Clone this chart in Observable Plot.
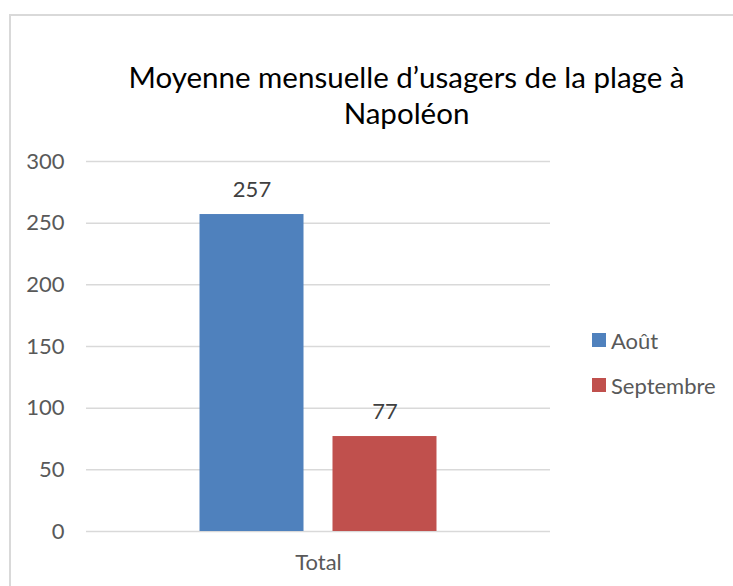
<!DOCTYPE html>
<html>
<head>
<meta charset="utf-8">
<script src="https://cdn.jsdelivr.net/npm/d3@7"></script>
<script src="https://cdn.jsdelivr.net/npm/@observablehq/plot@0.6"></script>
<style>
  html, body { margin: 0; padding: 0; background: #fff; }
  #wrap { position: relative; width: 733px; height: 586px; overflow: hidden; font-family: Lato, "Open Sans", sans-serif; }
  #frame { position: absolute; left: 9px; top: 14px; width: 800px; height: 700px; border-left: 2px solid #d9d9d9; border-top: 2px solid #d9d9d9; pointer-events: none; z-index: 2; }
  #title { height: 145px; box-sizing: border-box; padding-top: 59px; padding-left: 80px; text-align: center; font-size: 29.5px; line-height: 36px; color: #000; }
  #legend { position: absolute; left: 592px; top: 326px; z-index: 3; }
  .item { display: flex; align-items: center; height: 28px; margin-bottom: 17px; font-size: 22px; color: #595959; }
  .sw { width: 14px; height: 14px; margin-right: 5px; }
</style>
</head>
<body>
<div id="wrap">
  <div id="frame"></div>
  <div id="title">Moyenne mensuelle d’usagers de la plage à<br>Napoléon</div>
  <div id="chart"></div>
  <div id="legend"></div>
</div>
<script>
const categories = ["Total"];
const series = ["Août", "Septembre"];
const values = [257, 77];
const colors = ["#4F81BD", "#C0504D"];
const yTicks = [0, 50, 100, 150, 200, 250, 300];

const data = series.map((s, i) => ({cat: categories[0], series: s, value: values[i]}));

const chart = Plot.plot({
  width: 733,
  height: 441,
  marginTop: 16,
  marginBottom: 55,
  marginLeft: 86,
  marginRight: 183,
  style: {background: "transparent", fontFamily: "Lato, 'Open Sans', sans-serif", fontSize: "22px", color: "#595959"},
  fx: {domain: categories, padding: 0, label: null, axis: "bottom", tickSize: 0, tickPadding: 23},
  x: {domain: series, type: "band", paddingInner: 0.218, paddingOuter: 0.8535, axis: null, round: false},
  y: {domain: [0, 300], ticks: yTicks, label: null, tickSize: 0, tickPadding: 22},
  color: {domain: series, range: colors},
  marks: [
    Plot.gridY(yTicks, {stroke: "#d9d9d9", strokeOpacity: 1, strokeWidth: 1.5}),
    Plot.barY(data, {fx: "cat", x: "series", y: "value", fill: "series"}),
    Plot.text(data, {fx: "cat", x: "series", y: "value", text: d => String(d.value), dy: -25, fill: "#404040", fontSize: 22})
  ]
});
document.getElementById("chart").appendChild(chart);

const legend = document.getElementById("legend");
series.forEach((s, i) => {
  const item = document.createElement("div");
  item.className = "item";
  const sw = document.createElement("span");
  sw.className = "sw";
  sw.style.background = colors[i];
  const t = document.createElement("span");
  t.textContent = s;
  item.appendChild(sw);
  item.appendChild(t);
  legend.appendChild(item);
});
</script>
</body>
</html>
